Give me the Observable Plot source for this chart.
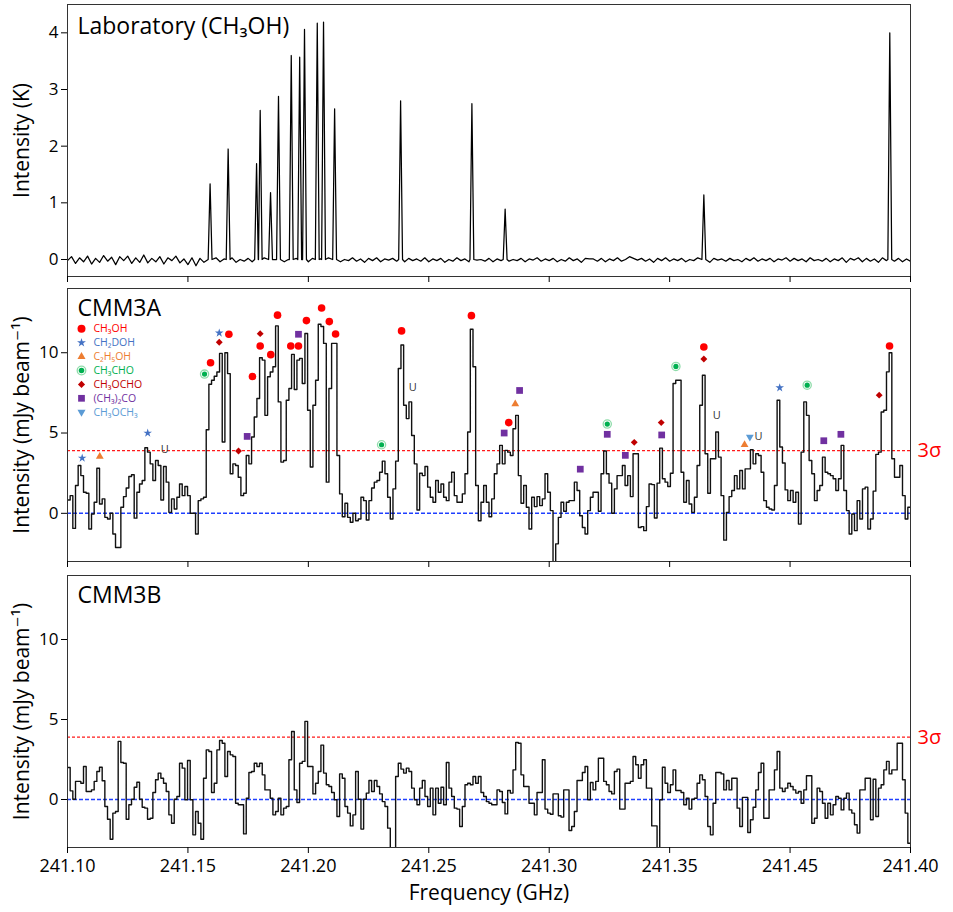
<!DOCTYPE html>
<html><head><meta charset="utf-8">
<script src="https://cdn.jsdelivr.net/npm/d3@7"></script>
<script src="https://cdn.jsdelivr.net/npm/@observablehq/plot@0.6"></script>
<style>body{margin:0;background:#fff;} #chart svg{display:block;}</style>
</head><body><div id="chart"></div>
<script>
// ---------- axis ----------
const freqStart = 241.10, freqEnd = 241.45;
const xTickValues = [241.10, 241.15, 241.20, 241.25, 241.30, 241.35, 241.40, 241.45];
const xTickLabels = ["241.10", "241.15", "241.20", "241.25", "241.30", "241.35", "241.45", "241.40"];
const sigma3A = 3.9, sigma3B = 3.9;
const labDomain = [-0.3, 4.5], obsDomain = [-3, 14];

// ---------- laboratory CH3OH spectrum ----------
const labPeakFreq = [241.1592, 241.1667, 241.1785, 241.1800, 241.1843, 241.1876, 241.1929, 241.1964,
  241.1984, 241.2037, 241.2063, 241.2109, 241.2383, 241.2679, 241.2817, 241.3642, 241.4414];
const labPeakHeight = [1.335, 1.95, 1.69, 2.63, 1.18, 2.88, 3.60, 3.57, 4.06, 4.17, 4.19, 2.66, 2.80, 2.75, 0.89, 1.14, 4.00];
const labNoise = [
  -0.02, 0.05, -0.07, 0.03, -0.04, 0.06, -0.08, 0.02, -0.05, 0.07, -0.03, 0.04, -0.09, 0.05, -0.02, 0.06, -0.07, 0.03, -0.05, 0.08, -0.06, 0.02, -0.04, 0.05, -0.08, 0.03, -0.02, 0.06, -0.06, 0.01,
  -0.09, 0.03, -0.11, 0.02, -0.05, 0.01, -0.03, 0.03, -0.04, 0.01, -0.02, 0.03, -0.05, 0.0, -0.03, 0.02, -0.04, 0.01, -0.02, 0.03, -0.05, 0.02, -0.01, 0.03, -0.04, 0.0, -0.03, 0.02, -0.02, 0.01,
  -0.04, 0.02, -0.03, 0.01, -0.05, 0.03, -0.01, 0.02, -0.04, 0.0, -0.02, 0.03, -0.03, 0.01, -0.05, 0.02, -0.02, 0.03, -0.04, 0.01, -0.01, 0.02, -0.03, 0.0, -0.04, 0.02, -0.02, 0.01, -0.03, 0.03,
  -0.04, 0.01, -0.02, 0.02, -0.05, 0.0, -0.03, 0.03, -0.02, 0.01, -0.04, 0.02, -0.01, 0.0, -0.03, 0.02, -0.04, 0.01, -0.02, 0.03, -0.03, 0.0, -0.02, 0.02, -0.04, 0.01, -0.01, 0.03, -0.03, 0.01,
  -0.02, 0.02, -0.04, 0.0, -0.03, 0.03, -0.02, 0.01, -0.05, 0.02, 0.01, 0.01, -0.03, 0.02, -0.04, 0.01, -0.02, 0.03, -0.03, 0.0, 0.05, 0.02, -0.01, 0.02, -0.03, 0.01, -0.05, 0.02, -0.02, 0.03,
  -0.03, 0.01, -0.02, 0.02, -0.04, 0.0, -0.02, 0.03, -0.03, 0.01, -0.05, 0.02, -0.01, 0.01, -0.03, 0.02, -0.02, 0.0, -0.04, 0.02, -0.02, 0.03, -0.03, 0.01, -0.02, 0.02, -0.04, 0.01, -0.01, 0.03,
  -0.03, 0.02, -0.02, 0.01, -0.04, 0.03, -0.02, 0.0, -0.03, 0.02, -0.04, 0.01, -0.02, 0.03, -0.05, 0.02, -0.01, 0.03, -0.04, 0.02, -0.03, 0.01, -0.05, 0.03, -0.02, 0.04, -0.03, 0.02, -0.04, 0.01, -0.03
];

// ---------- CMM3A channels (mJy/beam) ----------
const cmm3a = [
  0.83, 1.1, -0.94, 1.73, 2.98, 2.35, 1.31, 1.25, -0.98, -0.04,
  0.69, 2.81, 0.58, 0.9, -0.25, -0.35, 0, -1.29, -2.13, -2.13,
  0.38, 1.04, 1.58, 2.29, 2.4, -0.3, 1.31, 1.83, 2.04, 4.08,
  3.81, 3.08, 2.04, 3.29, 2.98, 0.83, 2.92, 1.94, 0.06, 0.9,
  0.27, 1.0, 1.83, 1.1, 1.67, 1.1, 0, 0, -1.29, 0.79,
  0.9, 1.0, 5.2, 8.04, 8.29, 8.54, 8.8, 9.96, 4.44, 10.0,
  8.7, 2.46, 3.08, 2.98, 2.25, 1.1, 1.25, 3.6, 3.08, 4.75,
  6.0, 7.15, 9.69, 9.54, 6.1, 8.5, 8.8, 9.13, 11.67, 6.94,
  3.19, 3.29, 7.04, 7.77, 9.9, 7.71, 9.54, 9.65, 8.08, 11.2,
  6.42, 2.88, 6.73, 8.29, 11.77, 11.63, 10.58, 1.94, 7.77, 10.58,
  10.58, 3.6, 1.21, -0.21, 0.63, -0.25, -0.56, 0, -0.46, -0.35,
  1.0,
  0.79, -0.42, 0.79, 1.58, 1.94, 2.04, 2.56, 3.25, 2.46, 1.0,
  -0.35, 1.52, 3.25, 9.02, 10.48, 6.73, 5.9, 6.94, 4.85, 3.08,
  0.21, 2.5, 2.35, 2.92, 1.63, 1.0, 0.69, 2.04, 1.31, 1.83,
  1.0, 0.79, 1.94, 2.56, 1.1, 0.69, 0.69, 1.21, 2.46, 5.06,
  11.46, 9.13, 1.73, -0.46, 0.69, 1.73, 0.69, -0.21, 0.9, 2.46,
  3.08, 4.23, 3.08, 3.92, 3.81, 3.6, 5.27, 6.1, 2.35, 0.63,
  1.73, 0.38, -0.98, 1.0, 0.42, 1.04, 0.48, 0.9, 2.46, 1.31,
  0.17, -3.2, -1.9, -0.25, 0.69, 0.13, 0.69, 0.79, 0.79, 1.94,
  1.42, -0.15, -0.88, -1.29, 0.17, 1.0, 1.31, 1.31, 0.13, 2.46,
  3.88, 2.46, 1.88, 0, 1.52, 2.35, 2.35, 2.98, 1.73, 2.35,
  1.04, 3.71, 3.71, -0.88,
  -0.83, -1.08, 0.42, 1.83, 1.79, -0.29, 1.88, 4.06, 2.15, 1.94,
  1.67, 2.5, 8.08, 8.29, 8.29, 2.56, 0.69, 2.04, 0.58, 0.06,
  1.0, 2.98, 6.73, 8.6, 3.71, 1.25, 3.4, 3.4, 5.06, 3.5,
  1.1, -1.67, 0.06, 1.04, 1.42, 2.35, 1.52, 2.67, 1.52, 2.77,
  2.77, 3.96, 3.08, 3.71, 3.6, 2.56, 0.79, 0.38, 0.27, 0.21,
  1.73, 7.04, 4.13, 3.13, 1.46, 0.79, 1.42, 0.69, 1.31, -0.67,
  3.81, 6.94, 6.1, 3.29, 2.46, 0.79, 1.42, 1.73, 3.5, 2.56,
  2.46, 2.35, 2.15, 1.42, 2.15, 4.23, 1.42, 0.17, -1.29, -0.04,
  -1.08, 0.79, -0.35, 1.52, 1.63, -0.98, -0.35, 1.38, 3.67, 3.81,
  6.31, 6.42, 8.81, 10.0, 3.4, 2.25, 2.25, 2.98, 1.1, -0.35,
  0.38
];

// ---------- CMM3B channels (mJy/beam) ----------
const cmm3b = [
  2.0, 0.54, 0.02, 1.13, 1.13, 1.02, 2.06, 0.5, 0.5, 0.6,
  1.13, 1.75, 2.02, 1.17, -0.44, -1.23, -2.48, -0.85, -0.75, 3.63,
  2.31, 2.27, -1.23, -0.33, 0.02, 0.77, 1.08, 0.02, -0.48, -0.54,
  -1.23, -1.17, 0.44, 1.23, 1.65, 1.33, 1.02, 0.5, -0.96, -1.48,
  0.02, 0.19, 2.27, 1.96, -0.02, 2.44, -0.02, -2.21, -0.75, -1.48,
  -2.48,
  1.33, 3.1, 3.0, 0.44, 1.02, 3.1, 3.69, 3.52, 1.44, 3.0, 2.79, 2.69, -0.23, -0.33, -0.33, -2.15, 0.08, 1.69, 1.75, 2.27, 2.06, 2.27,
  1.54, 0.6, 0.6, 0.08, -0.96, -0.75, 0.08, -0.96, -0.54, -0.44, 2.48, 4.25, 0.6, -0.19, 2.27, 2.38,
  4.88, 2.06, 2.06, 0.35, 1.02, 1.75, 3.4, 1.65, 0.92, 0.81,
  0.44, -0.02, -1.06, 1.6, 1.33, -0.44, -0.85, -1.65, -0.96, 1.75, 0.02, -1.85, 0.02, 0.4,
  1.19, 0.5, 1.19, 0.81, 0.35, -0.13, -0.44, -1.79, -3.2, -3.2, 1.44, 2.27, 1.9, 1.65, 1.96, 1.75, 0.71, -0.02, -0.33, 0.71,
  1.19, 0.19, -0.44, 0.71, -0.96, 0.71, -0.23, 0.77, -0.33, 2.31, 0.71, 0.19, -0.54, -0.6, -1.69,
  -0.44, 0.92, 1.02, 0.92, 1.44, 1.02, 1.44, 0.44, 0.19, -0.13, -0.23, -0.33, -0.33, 0.6, 0.5, -0.19, -0.9, 0.56, 0.4,
  1.85, 3.56, 3.52, 1.54, 0.81, 0.81, -0.23, -0.23, -0.96, 0.44, 0.44, 2.48, -0.6,
  -0.85, -0.92, 0.35, 0.35, -1.02, -1.1, 0.6, 0.6, -1.94, -1.69, -0.75, 1.19, 1.19, 1.69, 2.06, -0.02,
  1.06, 0.6, 1.13, 2.58, 2.58, 1.13, 0.92, 0.5, 0.35, 1.75, 1.9, -0.6, -0.6, 1.02, 1.02, 1.13,
  2.69, 2.17, 1.33, 2.17, 2.48, 0.71, 0.71, -1.65, -1.65, -3.2, -0.02, 2.02, 1.02, 0.44, 0.92, 1.85,
  0.56, 0.56, 0.44, -0.33, 0.08, -0.6, 0.02, 0.08, 1.02, 1.54, 1.23, 0.19, -1.69, -2.21, -0.23, 1.69,
  1.69, 1.6, 0.6, 1.19, 0.6, 1.33, 1.33, -0.54, -1.69, 0.13, 0.13, -2.06, -1.27, -0.48, 0.6, 1.69,
  2.27, -1.17, -1.17, 0.6, 0.6, 1.85, 3.0, 0.71, 0.5, 0.71, 1.02, 0.81, 0.6, 0.4, 0.5, -0.23,
  0.6, 1.48, 1.48, -1.48, -1.17, 0.71, 0.5, -0.23, -1.17, -0.23, -0.96, -0.33, 0.19, 0.08, -0.65, 0.08,
  0.4, -0.65, -0.85, -1.58, -2.1, 0.6, 0.6, 1.33, 1.33, -1.27, 1.27, -1.06, 0.71, 0.92, 1.85, 2.38,
  1.6, 1.85, 1.85, 3.52, 3.52, 1.23, -0.85, -2.73
];

// ---------- line identifications in CMM3A ----------
const species = ["CH₃OH", "CH₂DOH", "C₂H₅OH", "CH₃CHO", "CH₃OCHO", "(CH₃)₂CO", "CH₃OCH₃"];
const speciesColor = ["#ff0000", "#4472c4", "#ed7d31", "#00b050", "#c00000", "#7030a0", "#5b9bd5"];
const idCH3OH = { f: [241.1594, 241.1670, 241.1768, 241.1800, 241.1844, 241.1872, 241.1927, 241.1959, 241.1992, 241.2055, 241.2087, 241.2113, 241.2387, 241.2677, 241.2832, 241.3642, 241.4413],
                  v: [9.38, 11.15, 8.52, 10.42, 9.88, 12.34, 10.42, 10.42, 12.0, 12.79, 11.94, 11.17, 11.36, 12.31, 5.65, 10.36, 10.42] };
const idCH2DOH = { f: [241.1061, 241.1333, 241.1630, 241.3957], v: [3.44, 5.0, 11.23, 7.82] };
const idC2H5OH = { f: [241.1134, 241.2859, 241.3811], v: [3.54, 6.81, 4.27] };
const idCH3CHO = { f: [241.1569, 241.2304, 241.3241, 241.3526, 241.4071], v: [8.67, 4.27, 5.56, 9.15, 7.98] };
const idCH3OCHO = { f: [241.1630, 241.1710, 241.1800, 241.3353, 241.3465, 241.3642, 241.4370], v: [10.65, 3.88, 11.19, 4.42, 5.65, 9.61, 7.36] };
const idAcetone = { f: [241.1746, 241.1959, 241.2813, 241.2877, 241.3129, 241.3241, 241.3316, 241.3467, 241.4140, 241.4211],
                    v: [4.79, 11.15, 5.0, 7.65, 2.75, 4.92, 3.61, 4.88, 4.52, 4.92] };
const idCH3OCH3 = { f: [241.3833], v: [4.75] };
const unidentified = { f: [241.1404, 241.2434, 241.3696, 241.3869], v: [4.0, 7.86, 6.1, 4.81] };

// ---------- helpers ----------
const font = "'Open Sans', 'DejaVu Sans', sans-serif";
const pts = o => o.f.map((f, i) => ({ f, v: o.v[i] }));
function stepData(vals) {
  const w = (freqEnd - freqStart) / vals.length;
  const out = vals.map((v, i) => ({ f: freqStart + i * w, v }));
  out.push({ f: freqEnd, v: vals[vals.length - 1] });
  return out;
}
function labData() {
  const step = (freqEnd - freqStart) / (labNoise.length - 1);
  const foot = 0.0008;
  const out = [];
  labNoise.forEach((v, i) => {
    const f = freqStart + i * step;
    if (!labPeakFreq.some(p => Math.abs(p - f) < foot + 0.0003)) out.push({ f, v });
  });
  labPeakFreq.forEach((p, i) => {
    out.push({ f: p - foot, v: 0.0 }, { f: p, v: labPeakHeight[i] }, { f: p + foot, v: 0.0 });
  });
  return out.sort((a, b) => a.f - b.f);
}
const downTriangle = {
  draw(context, size) {
    const y = -Math.sqrt(size / (Math.sqrt(3) * 3));
    context.moveTo(0, -y * 2);
    context.lineTo(-Math.sqrt(3) * y, y);
    context.lineTo(Math.sqrt(3) * y, y);
    context.closePath();
  }
};
const fmtX = d => xTickLabels[xTickValues.findIndex(t => Math.abs(t - d) < 1e-9)];
const ylabel = (txt, dom) => Plot.text([txt], {
  x: () => freqStart, y: () => (dom[0] + dom[1]) / 2, dx: -45,
  rotate: -90, textAnchor: "middle", lineAnchor: "middle", fontSize: 21, fill: "#000", text: d => d
});
const title = (txt, dy) => Plot.text([txt], { frameAnchor: "top-left", lineAnchor: "middle", dx: 10, dy, fontSize: 23, textAnchor: "start", fill: "#000", text: d => d });
const common = { width: 953, marginLeft: 67, marginRight: 43, x: { domain: [freqStart, freqEnd] },
  style: { fontFamily: font, background: "white", overflow: "visible", color: "#000" } };

function speciesMarks(o, k) {
  const color = speciesColor[k];
  const d = pts(o);
  switch (k) {
    case 0: return [Plot.dot(d, { x: "f", y: "v", r: 3.8, fill: color, symbol: "circle" })];
    case 1: return [Plot.dot(d, { x: "f", y: "v", r: 2.7, fill: color, symbol: "star" })];
    case 2: return [Plot.dot(d, { x: "f", y: "v", r: 2.9, fill: color, symbol: "triangle" })];
    case 3: return [Plot.dot(d, { x: "f", y: "v", r: 4.1, fill: "white", stroke: "#8fdcaa", strokeWidth: 1.3 }),
                    Plot.dot(d, { x: "f", y: "v", r: 2.6, fill: color })];
    case 4: return [Plot.dot(d, { x: "f", y: "v", r: 3.1, fill: color, symbol: "diamond2" })];
    case 5: return [Plot.dot(d, { x: "f", y: "v", r: 3.8, fill: color, symbol: "square" })];
    case 6: return [Plot.dot(d, { x: "f", y: "v", r: 2.9, fill: color, symbol: downTriangle })];
  }
}
function legendMarks() {
  const marks = [];
  const symbols = ["circle", "star", "triangle", null, "diamond2", "square", downTriangle];
  const radii = [4.0, 2.8, 3.0, null, 3.2, 3.8, 3.0];
  species.forEach((s, i) => {
    const dy = 40.3 + i * 13.9;
    if (i === 3) {
      marks.push(Plot.dot([s], { frameAnchor: "top-left", dx: 14, dy, r: 4.3, fill: "white", stroke: "#8fdcaa", strokeWidth: 1.3 }));
      marks.push(Plot.dot([s], { frameAnchor: "top-left", dx: 14, dy, r: 2.8, fill: speciesColor[i] }));
    } else {
      marks.push(Plot.dot([s], { frameAnchor: "top-left", dx: 14, dy, r: radii[i], fill: speciesColor[i], symbol: symbols[i] }));
    }
    marks.push(Plot.text([s], { frameAnchor: "top-left", lineAnchor: "middle", dx: 26, dy, text: d => d, fill: speciesColor[i], fontSize: 10.5, textAnchor: "start" }));
  });
  return marks;
}
const sigmaLabel = s => Plot.text(["3σ"], { x: () => freqEnd, y: () => s, dx: 7, textAnchor: "start", lineAnchor: "middle", fill: "#ff0000", fontSize: 20, text: d => d });
const zeroRule = () => Plot.ruleY([0], { stroke: "#1f3fff", strokeDasharray: "4,2", strokeWidth: 1.5 });
const sigmaRule = s => Plot.ruleY([s], { stroke: "#ff1a1a", strokeDasharray: "3,2", strokeWidth: 1.3 });

const chart = document.getElementById("chart");

// ---------- panel 1: laboratory ----------
chart.append(Plot.plot({
  ...common, height: 282, marginTop: 4, marginBottom: 6,
  y: { domain: labDomain },
  marks: [
    Plot.line(labData(), { x: "f", y: "v", stroke: "#000", strokeWidth: 1.25, clip: true }),
    Plot.frame({ stroke: "#333" }),
    Plot.axisY({ ticks: [0, 1, 2, 3, 4], tickFormat: d => String(d), tickSize: 6, tickPadding: 3, fontSize: 17, label: null }),
    Plot.axisX({ ticks: xTickValues, tickSize: 6, tickFormat: () => "", label: null }),
    ylabel("Intensity (K)", labDomain),
    title("Laboratory (CH₃OH)", 22)
  ]
}));

// ---------- panel 2: CMM3A ----------
chart.append(Plot.plot({
  ...common, height: 287, marginTop: 6, marginBottom: 8,
  y: { domain: obsDomain },
  marks: [
    sigmaRule(sigma3A), zeroRule(),
    Plot.line(stepData(cmm3a), { x: "f", y: "v", curve: "step-after", stroke: "#111", strokeWidth: 1.4, clip: true }),
    Plot.frame({ stroke: "#333" }),
    Plot.axisY({ ticks: [0, 5, 10], tickFormat: d => String(d), tickSize: 6, tickPadding: 3, fontSize: 17, label: null }),
    Plot.axisX({ ticks: xTickValues, tickSize: 6, tickFormat: () => "", label: null }),
    ...speciesMarks(idCH3OH, 0), ...speciesMarks(idCH2DOH, 1), ...speciesMarks(idC2H5OH, 2),
    ...speciesMarks(idCH3CHO, 3), ...speciesMarks(idCH3OCHO, 4), ...speciesMarks(idAcetone, 5),
    ...speciesMarks(idCH3OCH3, 6),
    Plot.text(pts(unidentified), { x: "f", y: "v", text: () => "U", fill: "#333", fontSize: 11 }),
    sigmaLabel(sigma3A),
    ...legendMarks(),
    ylabel("Intensity (mJy beam⁻¹)", obsDomain),
    title("CMM3A", 20)
  ]
}));

// ---------- panel 3: CMM3B ----------
chart.append(Plot.plot({
  ...common, height: 343, marginTop: 6, marginBottom: 65,
  y: { domain: obsDomain },
  marks: [
    sigmaRule(sigma3B), zeroRule(),
    Plot.line(stepData(cmm3b), { x: "f", y: "v", curve: "step-after", stroke: "#111", strokeWidth: 1.4, clip: true }),
    Plot.frame({ stroke: "#333" }),
    Plot.axisY({ ticks: [0, 5, 10], tickFormat: d => String(d), tickSize: 6, tickPadding: 3, fontSize: 17, label: null }),
    Plot.axisX({ ticks: xTickValues, tickSize: 6, tickPadding: 6, tickFormat: fmtX, fontSize: 18, label: null }),
    sigmaLabel(sigma3B),
    Plot.text(["Frequency (GHz)"], { frameAnchor: "bottom", lineAnchor: "middle", dy: 46, fontSize: 21, fill: "#000", text: d => d }),
    ylabel("Intensity (mJy beam⁻¹)", obsDomain),
    title("CMM3B", 20)
  ]
}));
</script>
</body></html>
